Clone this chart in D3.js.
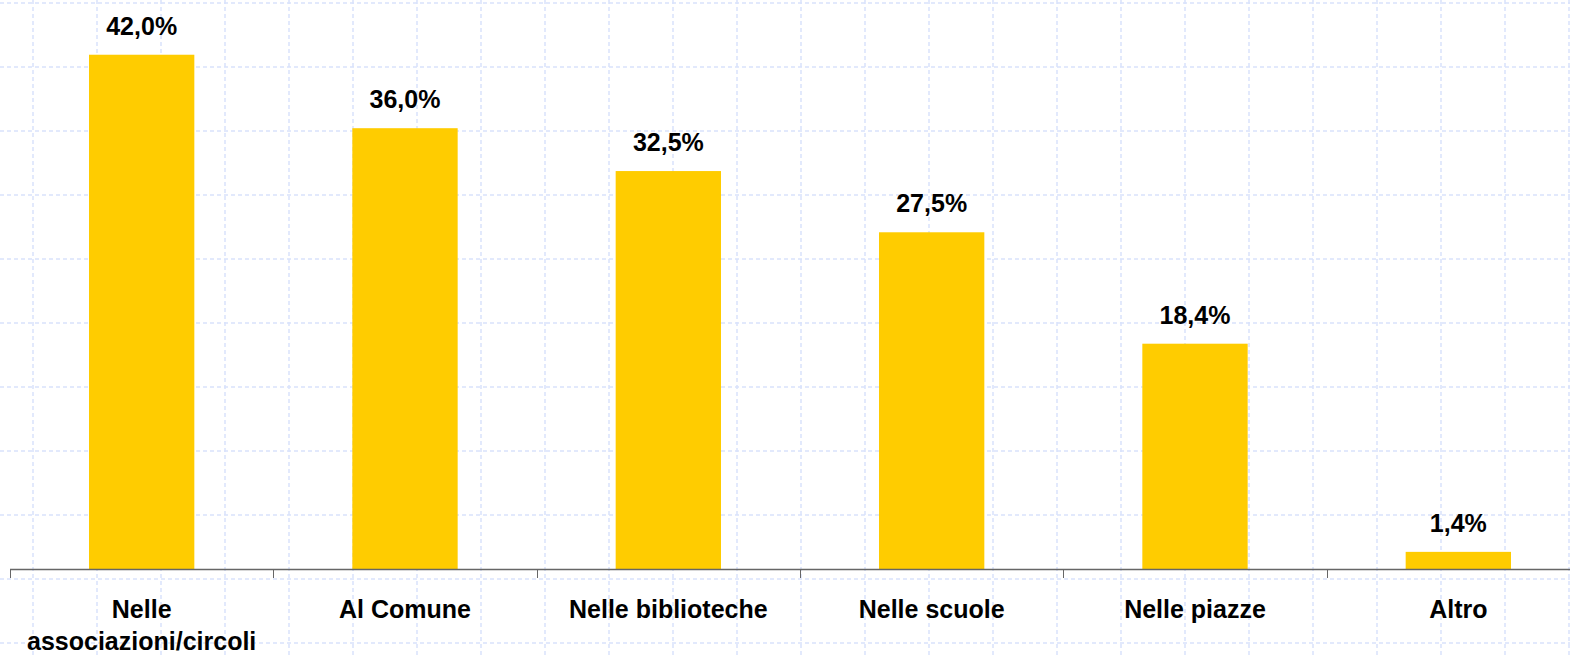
<!DOCTYPE html>
<html>
<head>
<meta charset="utf-8">
<script src="https://cdn.jsdelivr.net/npm/d3@7"></script>
<style>
  body { margin: 0; background: #fff; }
  svg { display: block; }
  text { font-family: "Liberation Sans", Arial, sans-serif; font-weight: bold; fill: #000; }
</style>
</head>
<body>
<div id="main-content"></div>
<script>
// categories and values (percent)
const categories = ["Nelle associazioni/circoli", "Al Comune", "Nelle biblioteche", "Nelle scuole", "Nelle piazze", "Altro"]
const labelLines = [["Nelle", "associazioni/circoli"], ["Al Comune"], ["Nelle biblioteche"], ["Nelle scuole"], ["Nelle piazze"], ["Altro"]]
const values = [42.0, 36.0, 32.5, 27.5, 18.4, 1.4]

const width = 1570
const height = 656

const svg = d3.select("#main-content")
  .append("svg")
  .attr("width", width)
  .attr("height", height)

// background dashed grid (slide pattern)
const grid = svg.append("g").attr("class", "grid")
  .attr("stroke", "#d9e2fb")
  .attr("stroke-width", 1.5)
  .attr("stroke-dasharray", "4,3")

d3.range(33, width, 64).forEach(x => {
  grid.append("line").attr("x1", x).attr("x2", x).attr("y1", 0).attr("y2", height)
})
d3.range(3, height, 64).forEach(y => {
  grid.append("line").attr("x1", 0).attr("x2", width).attr("y1", y).attr("y2", y)
})

const x = d3.scaleBand()
  .domain(categories)
  .range([10, 1590])
  .paddingInner(0.6)
  .paddingOuter(0.3)

const y = d3.scaleLinear()
  .domain([0, 45])
  .range([569, 18])

// bars
svg.append("g")
  .selectAll("rect")
  .data(values)
  .enter()
  .append("rect")
  .attr("x", (d, i) => x(categories[i]))
  .attr("y", d => y(d))
  .attr("width", x.bandwidth())
  .attr("height", d => y(0) - y(d))
  .attr("fill", "#ffcc00")

// value labels
svg.append("g")
  .selectAll("text")
  .data(values)
  .enter()
  .append("text")
  .attr("x", (d, i) => x(categories[i]) + x.bandwidth() / 2)
  .attr("y", d => y(d) - 20)
  .attr("text-anchor", "middle")
  .style("font-size", "25px")
  .text(d => d.toFixed(1).replace(".", ",") + "%")

// x axis
const axis = svg.append("g").attr("stroke", "#666")
axis.append("line")
  .attr("x1", 10).attr("x2", width)
  .attr("y1", y(0) + 0.5).attr("y2", y(0) + 0.5)
  .attr("stroke-width", 1.5)
categories.forEach((c, i) => {
  const tx = Math.round(x(c) - x.step() * x.paddingOuter()) + 0.5
  axis.append("line")
    .attr("x1", tx).attr("x2", tx)
    .attr("y1", y(0)).attr("y2", y(0) + 9)
})

// category labels
const cl = svg.append("g")
  .selectAll("text")
  .data(categories)
  .enter()
  .append("text")
  .attr("x", d => x(d) + x.bandwidth() / 2)
  .attr("y", 618)
  .attr("text-anchor", "middle")
  .style("font-size", "25px")

cl.each(function(d, i) {
  const t = d3.select(this)
  labelLines[i].forEach((line, j) => {
    t.append("tspan")
      .attr("x", x(d) + x.bandwidth() / 2)
      .attr("dy", j === 0 ? 0 : 32)
      .text(line)
  })
})
</script>
</body>
</html>
